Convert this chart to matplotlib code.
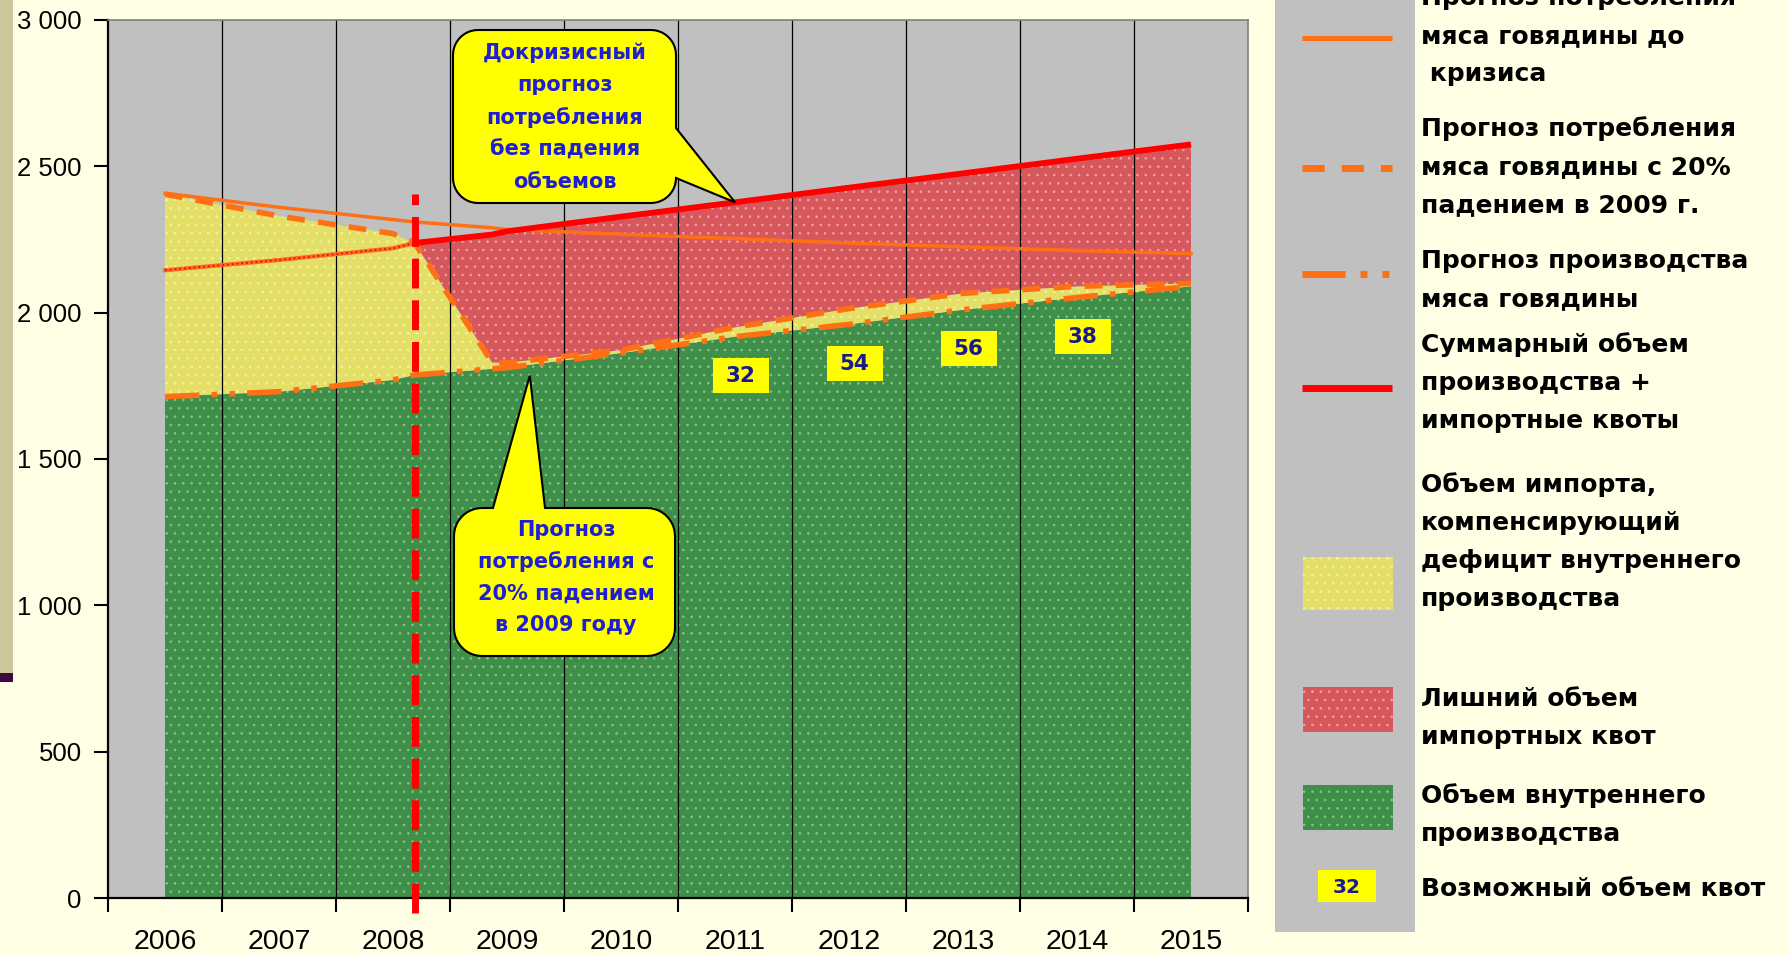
# -*- coding: utf-8 -*-
import numpy as np
import matplotlib
matplotlib.use("Agg")
import matplotlib.pyplot as plt
from matplotlib.patches import Rectangle, Polygon
from matplotlib.ticker import FuncFormatter, FixedLocator

# beef market, thousand tonnes
x_pts = [2006, 2007, 2008, 2008.19, 2008.87, 2009, 2010, 2011, 2012, 2013, 2014, 2015]
precrisis = [2408, 2360, 2318, 2310, 2290, 2284, 2268, 2253, 2238, 2225, 2212, 2202]
cons_fall = [2405, 2330, 2270, 2238, 1830, 1829, 1872, 1950, 2014, 2066, 2090, 2100]
production = [1713, 1730, 1770, 1787, 1808, 1812, 1862, 1918, 1960, 2010, 2052, 2090]
supply = [2145, 2180, 2220, 2238, 2267, 2278, 2328, 2377, 2427, 2476, 2526, 2575]
crisis_x = 2008.19

years = list(range(2006, 2016))
quota_years = [2011, 2012, 2013, 2014]
quota_vals = [32, 54, 56, 38]
y_ticks = [0, 500, 1000, 1500, 2000, 2500, 3000]

ORANGE = "#FF7014"
GREEN, GREEN_DOT = "#3F8E49", "#86C686"
YELLOW, YELLOW_DOT = "#E4E067", "#F6F2A8"
RED, RED_DOT = "#D6585C", "#F2A3A3"
BG = "#FFFFE5"

W, H = 1789, 955
plt.rcParams["hatch.linewidth"] = 0.6


def main():
    fig = plt.figure(figsize=(W / 100, H / 100), dpi=100, facecolor=BG)
    # khaki band on the slide edge
    fig.add_artist(Rectangle((0, 1 - 673 / H), 13 / W, 673 / H, transform=fig.transFigure,
                             fc="#CBC79B", ec="none", zorder=-1))
    fig.add_artist(Rectangle((0, 1 - 682 / H), 13 / W, 9 / H, transform=fig.transFigure,
                             fc="#3A0A40", ec="none", zorder=-1))

    ax = fig.add_axes([108 / W, 1 - 898 / H, 1140 / W, 878 / H])
    ax.set_facecolor("#C0C0C0")
    ax.set_xlim(2005.5, 2015.5)
    ax.set_ylim(0, 3000)

    x = np.array(x_pts)
    cons = np.array(cons_fall)
    prod = np.array(production)
    sup = np.array(supply)

    # areas
    ax.fill_between(x, 0, prod, facecolor=GREEN, edgecolor=GREEN_DOT, hatch="..", linewidth=0, zorder=1)
    ax.fill_between(x, prod, cons, where=cons >= prod, interpolate=True,
                    facecolor=YELLOW, edgecolor=YELLOW_DOT, hatch="..", linewidth=0, zorder=1)
    ax.fill_between(x, np.maximum(cons, prod), sup, where=x >= crisis_x,
                    facecolor=RED, edgecolor=RED_DOT, hatch="..", linewidth=0, zorder=1)

    # vertical grid between categories
    for b in np.arange(2006.5, 2015.5, 1.0):
        ax.axvline(b, color="black", lw=0.9, zorder=2)

    # lines
    ax.plot(x, precrisis, color=ORANGE, lw=2.5, zorder=3)
    ax.plot(x, cons, color=ORANGE, lw=4, dashes=(3.2, 2.4), zorder=3)
    ax.plot(x, prod, color=ORANGE, lw=4, dashes=(6.2, 2.2, 1, 2.2, 1, 2.2), zorder=3)
    pre = x <= crisis_x
    post = x >= crisis_x
    ax.plot(x[pre], sup[pre], color="#FF6A20", lw=3, zorder=3)
    ax.plot(x[pre], sup[pre], color="#E01010", lw=1.3, ls=":", zorder=3)
    ax.plot(x[post], sup[post], color="#FF0000", lw=4.2, zorder=3, solid_capstyle="butt")
    ax.plot([crisis_x, crisis_x], [-50, 2405], color="#FF0000", lw=5, dashes=(4.3, 1.7),
            clip_on=False, zorder=4)

    # axes styling
    for s in ["left", "bottom"]:
        ax.spines[s].set_color("black")
        ax.spines[s].set_linewidth(1.6)
    for s in ["top", "right"]:
        ax.spines[s].set_color("#808080")
        ax.spines[s].set_linewidth(1.2)
    ax.yaxis.set_major_locator(FixedLocator(y_ticks))
    ax.yaxis.set_major_formatter(FuncFormatter(lambda v, p: f"{v:,.0f}".replace(",", " ")))
    ax.tick_params(axis="y", length=10, width=1.5, pad=9, labelsize=18.5)
    ax.xaxis.set_major_locator(FixedLocator(np.arange(2005.5, 2016, 1.0)))
    ax.xaxis.set_minor_locator(FixedLocator(years))
    ax.xaxis.set_major_formatter(FuncFormatter(lambda v, p: ""))
    ax.xaxis.set_minor_formatter(FuncFormatter(lambda v, p: f"{int(round(v))}"))
    ax.tick_params(axis="x", which="major", length=10, width=1.5)
    ax.tick_params(axis="x", which="minor", length=0, pad=22, labelsize=20.5)
    for lab in ax.get_xticklabels(minor=True) + ax.get_yticklabels():
        lab.set_family("Liberation Sans")

    # overlay in pixel coordinates for callouts and legend
    ov = fig.add_axes([0, 0, 1, 1], zorder=5)
    ov.set_xlim(0, W)
    ov.set_ylim(H, 0)
    ov.axis("off")

    def to_px(xd, yd):
        d = ax.transData.transform((xd, yd))
        return d[0], H - d[1]

    def arc(cx, cy, r, a0, a1):
        t = np.radians(np.linspace(a0, a1, 12))
        return list(zip(cx + r * np.cos(t), cy + r * np.sin(t)))

    # quota labels
    for yr, v in zip(quota_years, quota_vals):
        i = x_pts.index(yr)
        cx, cy = to_px(yr + 0.05, production[i] - 132)
        ov.add_patch(Rectangle((cx - 28, cy - 17), 56, 35, fc="#FFFF00", ec="none"))
        ov.text(cx, cy + 1, str(v), ha="center", va="center", fontsize=15.5, fontweight="bold",
                color="#1A1A8C", family="DejaVu Sans")

    txt_kw = dict(ha="center", va="center", fontsize=15, fontweight="bold",
                  color="#1E1ED2", family="DejaVu Sans")

    # callout 1: pre-crisis forecast
    x0, x1, y0, y1, r = 453, 676, 30, 203, 25
    tip = to_px(2011, supply[x_pts.index(2011)])
    pts = (arc(x0 + r, y0 + r, r, 180, 270) + arc(x1 - r, y0 + r, r, -90, 0)
           + [(x1, 128), tip, (x1, y1 - r)] + arc(x1 - r, y1 - r, r, 0, 90)
           + arc(x0 + r, y1 - r, r, 90, 180))
    ov.add_patch(Polygon(pts, closed=True, fc="#FFFF00", ec="black", lw=1.5))
    for k, line in enumerate(["Докризисный", "прогноз", "потребления", "без падения", "объемов"]):
        ov.text(565, 53 + 32.2 * k, line, **txt_kw)

    # callout 2: 20% fall forecast
    x0, x1, y0, y1, r = 454, 675, 508, 656, 28
    tip = to_px(2009.2, 1785)
    pts = ([(493, y0), tip, (545, y0)] + arc(x1 - r, y0 + r, r, -90, 0)
           + arc(x1 - r, y1 - r, r, 0, 90) + arc(x0 + r, y1 - r, r, 90, 180)
           + arc(x0 + r, y0 + r, r, 180, 270))
    ov.add_patch(Polygon(pts, closed=True, fc="#FFFF00", ec="black", lw=1.5))
    for k, line in enumerate(["Прогноз", "потребления с", "20% падением", "в 2009 году"]):
        ov.text(566, 530 + 31.7 * k, line, **txt_kw)

    # legend panel
    ov.add_patch(Rectangle((1275, -5), 140, 937, fc="#C0C0C0", ec="none"))
    ov.plot([1302, 1392], [38, 38], color=ORANGE, lw=3.6, solid_capstyle="butt")
    ov.plot([1302, 1392], [168, 168], color=ORANGE, lw=5, dashes=(3.2, 2.45))
    ov.plot([1302, 1392], [274, 274], color=ORANGE, lw=5, dashes=(6.2, 2.16, 1.0, 2.16, 1.0, 2.16))
    ov.plot([1302, 1392], [388, 388], color="#FF0000", lw=5, solid_capstyle="butt")
    ov.add_patch(Rectangle((1303, 557), 90, 53, fc=YELLOW, ec=YELLOW_DOT, hatch="..", lw=0))
    ov.add_patch(Rectangle((1303, 687), 90, 45, fc=RED, ec=RED_DOT, hatch="..", lw=0))
    ov.add_patch(Rectangle((1303, 785), 90, 45, fc=GREEN, ec=GREEN_DOT, hatch="..", lw=0))
    ov.add_patch(Rectangle((1318, 870), 58, 32, fc="#FFFF00", ec="none"))
    ov.text(1347, 887, "32", ha="center", va="center", fontsize=14.5, fontweight="bold",
            color="#1A1A8C", family="DejaVu Sans")

    entries = [
        (-2, ["Прогноз потребления", "мяса говядины до", " кризиса"]),
        (129, ["Прогноз потребления", "мяса говядины с 20%", "падением в 2009 г."]),
        (261, ["Прогноз производства", "мяса говядины"]),
        (345, ["Суммарный объем", "производства +", "импортные квоты"]),
        (485, ["Объем импорта,", "компенсирующий", "дефицит внутреннего", "производства"]),
        (699, ["Лишний объем", "импортных квот"]),
        (796, ["Объем внутреннего", "производства"]),
        (889, ["Возможный объем квот"]),
    ]
    for ytop, lines in entries:
        for k, line in enumerate(lines):
            ov.text(1421, ytop + 38 * k, line, ha="left", va="center", fontsize=18,
                    fontweight="bold", color="black", family="DejaVu Sans")

    fig.savefig("out.png", dpi=100, facecolor=fig.get_facecolor())


if __name__ == "__main__":
    main()
